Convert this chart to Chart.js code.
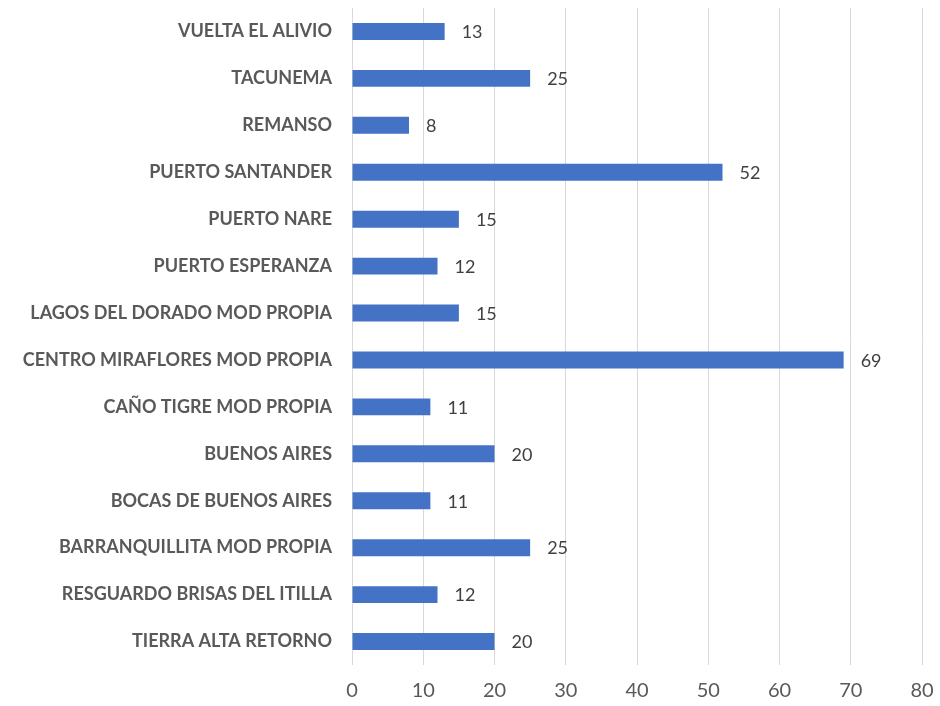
<!DOCTYPE html>
<html>
<head>
<meta charset="utf-8">
<script src="https://cdn.jsdelivr.net/npm/chart.js@4/dist/chart.umd.min.js"></script>
<style>
html,body{margin:0;padding:0;background:#fff;}
#wrap{width:940px;height:706px;}
</style>
</head>
<body>
<div id="wrap"><canvas id="c" width="940" height="706"></canvas></div>
<script>
const categories = [
  "VUELTA EL ALIVIO",
  "TACUNEMA",
  "REMANSO",
  "PUERTO SANTANDER",
  "PUERTO NARE",
  "PUERTO ESPERANZA",
  "LAGOS DEL DORADO MOD PROPIA",
  "CENTRO MIRAFLORES MOD PROPIA",
  "CAÑO TIGRE MOD PROPIA",
  "BUENOS AIRES",
  "BOCAS DE BUENOS AIRES",
  "BARRANQUILLITA MOD PROPIA",
  "RESGUARDO BRISAS DEL ITILLA",
  "TIERRA ALTA RETORNO"
];
const values = [13, 25, 8, 52, 15, 12, 15, 69, 11, 20, 11, 25, 12, 20];
const xTicks = [0, 10, 20, 30, 40, 50, 60, 70, 80];

const FONT = "Lato, 'Open Sans', sans-serif";

const valueLabels = {
  id: 'valueLabels',
  afterDatasetsDraw(chart) {
    const ctx = chart.ctx;
    const meta = chart.getDatasetMeta(0);
    ctx.save();
    ctx.font = "18px " + FONT;
    ctx.fillStyle = "#404040";
    ctx.textAlign = "left";
    ctx.textBaseline = "middle";
    meta.data.forEach((bar, i) => {
      ctx.fillText(String(values[i]), bar.x + 17, bar.y + 1);
    });
    ctx.restore();
  }
};

new Chart(document.getElementById('c'), {
  type: 'bar',
  data: {
    labels: categories,
    datasets: [{
      data: values,
      backgroundColor: '#4472C4',
      borderWidth: 0,
      barPercentage: 0.72,
      categoryPercentage: 0.5
    }]
  },
  options: {
    indexAxis: 'y',
    responsive: false,
    animation: false,
    layout: { padding: { top: 8, right: 18, bottom: 3, left: 0 } },
    plugins: { legend: { display: false }, tooltip: { enabled: false } },
    scales: {
      x: {
        min: 0, max: 80,
        afterBuildTicks(scale) { scale.ticks = xTicks.map(v => ({ value: v })); },
        grid: { color: '#d9d9d9', lineWidth: 1, drawTicks: true, tickLength: 14, tickColor: 'rgba(0,0,0,0)' },
        border: { display: false },
        ticks: { font: { family: FONT, size: 20 }, color: '#595959', padding: 0 }
      },
      y: {
        grid: { display: false, drawTicks: true, tickLength: 20 },
        border: { display: false },
        afterFit(scale) { scale.width = 352; },
        ticks: { font: { family: FONT, size: 18, weight: 'bold', lineHeight: 0.8 }, color: '#595959', padding: 0, autoSkip: false }
      }
    }
  },
  plugins: [valueLabels]
});
</script>
</body>
</html>
